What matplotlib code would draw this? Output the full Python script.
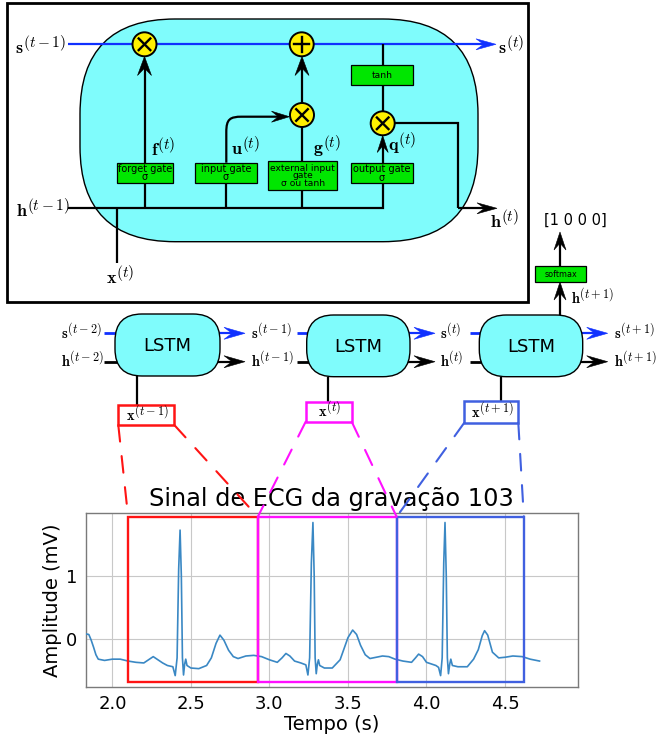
import matplotlib
matplotlib.use('Agg')
import matplotlib.pyplot as plt
from matplotlib.patches import FancyBboxPatch, Rectangle, Circle, Polygon, ConnectionPatch, PathPatch
from matplotlib.path import Path
import numpy as np
try:
    import matplotlib._mathtext as _mt
    _mt.SHRINK_FACTOR = 0.85
except Exception:
    pass

plt.rcParams['mathtext.fontset'] = 'cm'
plt.rcParams['font.family'] = ['DejaVu Sans']

# ---------------- data ----------------
ecg_time = [1.830, 1.850, 1.865, 1.880, 1.895, 1.910, 1.950, 2.000, 2.050, 2.100,
            2.150, 2.200, 2.230, 2.260, 2.290, 2.320, 2.350, 2.385, 2.400, 2.412,
            2.422, 2.431, 2.439, 2.446, 2.453, 2.460, 2.467, 2.475, 2.500, 2.550,
            2.600, 2.630, 2.660, 2.685, 2.710, 2.740, 2.770, 2.800, 2.850, 2.900,
            2.950, 3.000, 3.050, 3.080, 3.105, 3.130, 3.160, 3.200, 3.232, 3.245,
            3.256, 3.267, 3.277, 3.285, 3.291, 3.298, 3.305, 3.312, 3.320, 3.350,
            3.400, 3.450, 3.480, 3.500, 3.530, 3.555, 3.580, 3.610, 3.640, 3.680,
            3.720, 3.760, 3.800, 3.850, 3.905, 3.930, 3.950, 3.975, 4.000, 4.060,
            4.077, 4.090, 4.100, 4.110, 4.118, 4.126, 4.133, 4.140, 4.148, 4.155,
            4.165, 4.200, 4.260, 4.300, 4.330, 4.355, 4.370, 4.390, 4.420, 4.460,
            4.500, 4.550, 4.610, 4.660, 4.720]
ecg_mv = [0.08, 0.07, -0.02, -0.13, -0.25, -0.32, -0.34, -0.32, -0.32, -0.35,
          -0.37, -0.38, -0.33, -0.28, -0.33, -0.38, -0.42, -0.44, -0.58, -0.30,
          1.10, 1.72, 1.00, -0.30, -0.57, -0.40, -0.32, -0.42, -0.46, -0.47,
          -0.42, -0.30, -0.07, 0.06, -0.02, -0.18, -0.28, -0.31, -0.27, -0.26,
          -0.28, -0.33, -0.37, -0.30, -0.23, -0.27, -0.35, -0.38, -0.41, -0.57,
          -0.30, 1.20, 1.84, 1.00, -0.30, -0.55, -0.40, -0.33, -0.42, -0.46,
          -0.46, -0.33, -0.12, 0.02, 0.14, 0.07, -0.10, -0.25, -0.31, -0.29,
          -0.27, -0.28, -0.32, -0.35, -0.37, -0.30, -0.24, -0.28, -0.37, -0.42,
          -0.45, -0.58, -0.30, 1.20, 1.84, 1.00, -0.30, -0.55, -0.40, -0.32,
          -0.42, -0.44, -0.44, -0.32, -0.17, 0.05, 0.13, 0.06, -0.21, -0.30,
          -0.29, -0.27, -0.28, -0.32, -0.35]

win_start = [2.10, 2.926, 3.81]
win_end = [2.926, 3.81, 4.62]
win_low = -0.68
win_high = 1.93
win_labels = [r'$\mathbf{x}^{(t-1)}$', r'$\mathbf{x}^{(t)}$', r'$\mathbf{x}^{(t+1)}$']
win_colors = ['#ff1414', '#ff10ff', '#4060e0']
xticks = [2.0, 2.5, 3.0, 3.5, 4.0, 4.5]
yticks = [0, 1]
title = 'Sinal de ECG da gravação 103'
xlabel = 'Tempo (s)'
ylabel = 'Amplitude (mV)'
onehot = '[1 0 0 0]'
s_in = [r'$\mathbf{s}^{(t-2)}$', r'$\mathbf{s}^{(t-1)}$', r'$\mathbf{s}^{(t)}$']
s_out = r'$\mathbf{s}^{(t+1)}$'
h_in = [r'$\mathbf{h}^{(t-2)}$', r'$\mathbf{h}^{(t-1)}$', r'$\mathbf{h}^{(t)}$']
h_out = r'$\mathbf{h}^{(t+1)}$'

CYAN = '#7ffcfc'
GREEN = '#00e600'
YELLOW = '#fff000'
BLUE = '#1030ff'

# ---------------- figure ----------------
fig = plt.figure(figsize=(6.6, 7.36), dpi=100)
ecg = fig.add_axes([85.7 / 660, 1 - 687 / 736, (577.7 - 85.7) / 660, (687 - 513) / 736])
ov = fig.add_axes([0, 0, 1, 1], zorder=5)
ov.set_xlim(0, 660)
ov.set_ylim(736, 0)
ov.axis('off')

LW = 1.6


def line(pts, color='k', lw=LW, z=3):
    xs = [p[0] for p in pts]
    ys = [p[1] for p in pts]
    ov.plot(xs, ys, color=color, lw=lw, zorder=z, solid_capstyle='butt',
            solid_joinstyle='miter')


def head(tip, d, L, W, color='k', z=4):
    d = np.array(d, float)
    d = d / np.hypot(*d)
    n = np.array([-d[1], d[0]])
    tip = np.array(tip, float)
    base = tip - L * d
    poly = [tip, base + W / 2 * n, tip - 0.62 * L * d, base - W / 2 * n]
    ov.add_patch(Polygon(poly, closed=True, fc=color, ec=color, lw=0.4, zorder=z))


def arrow(pts, color='k', lw=LW, L=18, W=12, z=3):
    (x1, y1), (x2, y2) = pts[-2], pts[-1]
    d = np.array([x2 - x1, y2 - y1], float)
    d = d / np.hypot(*d)
    end = (x2 - 0.5 * L * d[0], y2 - 0.5 * L * d[1])
    line(list(pts[:-1]) + [end], color=color, lw=lw, z=z)
    head((x2, y2), d, L, W, color=color, z=z + 1)


def op(x, y, kind, r=12):
    ov.add_patch(Circle((x, y), r, fc=YELLOW, ec='k', lw=1.4, zorder=6))
    if kind == 'x':
        a = 5.8
        ov.plot([x - a, x + a], [y - a, y + a], color='k', lw=1.7, zorder=7)
        ov.plot([x - a, x + a], [y + a, y - a], color='k', lw=1.7, zorder=7)
    else:
        a = 7.5
        ov.plot([x - a, x + a], [y, y], color='k', lw=1.7, zorder=7)
        ov.plot([x, x], [y - a, y + a], color='k', lw=1.7, zorder=7)


def gbox(x0, y0, x1, y1, text, fs=7.0, ls=0.8):
    ov.add_patch(Rectangle((x0, y0), x1 - x0, y1 - y0, fc=GREEN, ec='k', lw=0.9, zorder=5))
    ov.text((x0 + x1) / 2, (y0 + y1) / 2 + 0.5, text, ha='center', va='center',
            fontsize=fs, linespacing=ls, zorder=6)


def lab(x, y, s, fs=13, ha='left'):
    ov.text(x, y, s, ha=ha, va='baseline', fontsize=fs, zorder=8)


# ---------------- top detailed cell ----------------
ov.add_patch(Rectangle((7, 3), 521, 299, fill=False, ec='k', lw=2.0, zorder=2))
ov.add_patch(FancyBboxPatch((80, 19), 398, 222.7,
                            boxstyle='round,pad=0,rounding_size=95',
                            fc=CYAN, ec='k', lw=1.0, zorder=1))

# cell state line
arrow([(68, 44.3), (496, 44.3)], color=BLUE, L=20, W=11)
# hidden state input line
line([(68, 208.3), (383, 208.3), (383, 183.3)])
line([(144.5, 208.3), (144.5, 182.7)])
line([(226.3, 208.3), (226.3, 182.7)])
line([(302, 208.3), (302, 189.5)])
line([(116.7, 208.3), (116.7, 263)])

# gates
gbox(116.7, 162.7, 173.3, 182.7, 'forget gate\nσ')
gbox(195, 162.7, 256.7, 182.7, 'input gate\nσ')
gbox(268.3, 161, 337, 189.5, 'external input\ngate\nσ ou tanh', fs=6.6, ls=0.78)
gbox(351, 162.7, 412.7, 183.3, 'output gate\nσ')
gbox(351, 65, 412.7, 85, 'tanh', fs=6.6)

# forget -> x
arrow([(144.5, 162.7), (144.5, 56.5)], L=19, W=14)
# external -> x
line([(302, 161), (302, 127)])
# x -> +
arrow([(302, 103), (302, 56.5)], L=19, W=14)
# input gate curved arrow
verts = [(226.3, 162.7), (226.3, 132), (226.3, 119), (230, 116.7), (242, 116.7), (280, 116.7)]
codes = [Path.MOVETO, Path.LINETO, Path.CURVE4, Path.CURVE4, Path.CURVE4, Path.LINETO]
ov.add_patch(PathPatch(Path(verts, codes), fill=False, ec='k', lw=LW, zorder=3))
head((289.5, 116.7), (1, 0), 18, 11)
# tanh path
line([(382.7, 44.3), (382.7, 65)])
line([(382.7, 85), (382.7, 111)])
arrow([(382.7, 162.7), (382.7, 135.5)], L=17, W=11)
# output
line([(394.7, 123.3), (458.3, 123.3), (458.3, 208.3)])
arrow([(458.3, 208.3), (497, 208.3)], L=20, W=11)

op(144.5, 44.3, 'x')
op(301.7, 44.3, '+')
op(302, 115, 'x')
op(382.7, 123.3, 'x')

lab(15, 55, r'$\mathbf{s}^{(t-1)}$')
lab(498, 55, r'$\mathbf{s}^{(t)}$')
lab(16, 218, r'$\mathbf{h}^{(t-1)}$')
lab(490, 229, r'$\mathbf{h}^{(t)}$')
lab(106, 285, r'$\mathbf{x}^{(t)}$')
lab(151, 157, r'$\mathbf{f}^{(t)}$')
lab(231, 156, r'$\mathbf{u}^{(t)}$')
lab(313, 155, r'$\mathbf{g}^{(t)}$')
lab(388, 152, r'$\mathbf{q}^{(t)}$')

# ---------------- unrolled LSTM row ----------------
blocks = [(115, 314, 220, 376), (306.7, 315, 410, 376.7), (479.3, 315, 582.7, 376.7)]
stub_x = [104, 296.7, 470]
lab_x = [61, 251, 440]
xline_x = [136.7, 327.5, 501]
xbox = [(118.3, 405, 174.3, 425), (305.7, 401.7, 351.7, 421.7), (464.3, 401, 518.3, 422.7)]
S_Y, H_Y = 333.3, 361.7
RFS = 10.3
for i, (x0, y0, x1, y1) in enumerate(blocks):
    ov.add_patch(FancyBboxPatch((x0, y0), x1 - x0, y1 - y0,
                                boxstyle='round,pad=0,rounding_size=27',
                                fc=CYAN, ec='k', lw=1.0, zorder=3))
    ov.text((x0 + x1) / 2, (y0 + y1) / 2 + 1, 'LSTM', ha='center', va='center',
            fontsize=13, zorder=4)
    line([(stub_x[i], S_Y), (x0 + 3, S_Y)], color=BLUE, lw=2.0, z=2)
    line([(stub_x[i], H_Y), (x0 + 3, H_Y)], lw=2.0, z=2)
    arrow([(x1 - 5, S_Y), (x1 + 25, S_Y)], color=BLUE, L=21, W=12, z=2)
    arrow([(x1 - 5, H_Y), (x1 + 25, H_Y)], L=21, W=12, z=2)
    lab(lab_x[i], 339.5, s_in[i], fs=RFS)
    lab(lab_x[i], 368.3, h_in[i], fs=RFS)
    line([(xline_x[i], y1), (xline_x[i], xbox[i][1])], z=2)
    bx0, by0, bx1, by1 = xbox[i]
    ov.add_patch(Rectangle((bx0, by0), bx1 - bx0, by1 - by0, fill=False,
                           ec=win_colors[i], lw=1.8, zorder=4))
    ov.text((bx0 + bx1) / 2 + 1.0, by1 - 3.5, win_labels[i], ha='center',
            va='baseline', fontsize=RFS, zorder=5)
lab(614, 339.5, s_out, fs=RFS)
lab(614, 368.3, h_out, fs=RFS)

# output branch
arrow([(560, 315), (560, 282)], L=18, W=12)
gbox(535, 265.7, 586, 281.7, 'softmax', fs=5.8)
arrow([(560, 265.7), (560, 232)], L=18, W=12)
ov.text(575, 220, onehot, ha='center', va='center', fontsize=10.5, zorder=5)
lab(571, 305, h_out, fs=RFS)

# ---------------- ECG axes ----------------
ecg.plot(ecg_time, ecg_mv, color='#3a88c4', lw=1.2, zorder=3)
ecg.set_xlim(1.83, 4.963)
ecg.set_ylim(-0.76, 1.99)
ecg.set_xticks(xticks)
ecg.set_xticklabels(['%.1f' % v for v in xticks])
ecg.set_yticks(yticks)
ecg.grid(True, color='#c8c8c8', lw=0.8)
ecg.set_axisbelow(True)
for sp in ecg.spines.values():
    sp.set_color('#7a7a7a')
    sp.set_linewidth(1.0)
ecg.tick_params(length=0, pad=6, labelsize=13)
ecg.set_title(title, fontsize=17.3, pad=5)
ecg.set_xlabel(xlabel, fontsize=14, labelpad=1)
ecg.set_ylabel(ylabel, fontsize=14, labelpad=3)

for i in range(3):
    ecg.add_patch(Rectangle((win_start[i], win_low), win_end[i] - win_start[i],
                            win_high - win_low, fill=False, ec=win_colors[i],
                            lw=1.7, zorder=4, clip_on=False))
    bx0, by0, bx1, by1 = xbox[i]
    for (px, tt) in [(bx0, win_start[i]), (bx1, win_end[i])]:
        cp = ConnectionPatch(xyA=(px, by1), coordsA=ov.transData,
                             xyB=(tt, win_high), coordsB=ecg.transData,
                             color=win_colors[i], lw=1.5, linestyle=(0, (8, 7)),
                             zorder=6)
        fig.add_artist(cp)

fig.savefig('out.png', dpi=100)
